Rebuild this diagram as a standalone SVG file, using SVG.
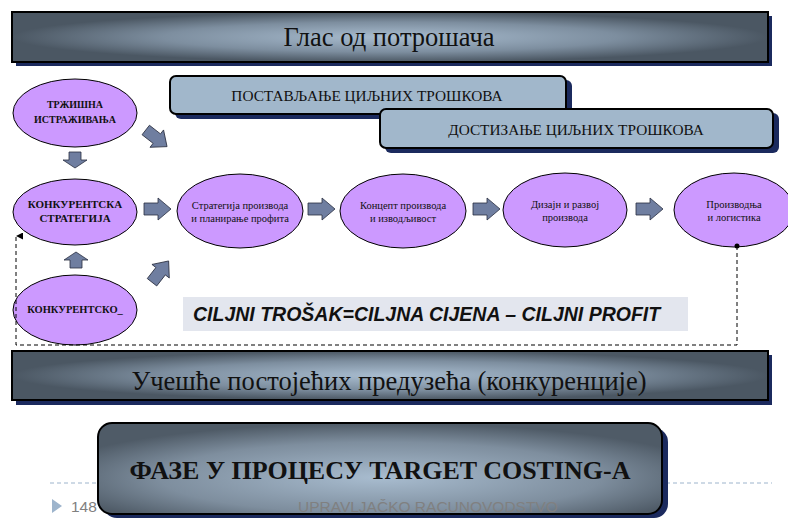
<svg xmlns="http://www.w3.org/2000/svg" width="788" height="518" viewBox="0 0 788 518">
<style>
  .ell { fill: #cc99ff; stroke: #000; stroke-width: 1; }
  .blk { fill: #6f7ea0; stroke: #2a2f40; stroke-width: 0.8; }
  .shadow { fill: #1b2a5e; }
  .band { stroke: #000; stroke-width: 2; }
  .bt { font-family: 'Liberation Serif', 'Times New Roman', serif; fill: #111; text-anchor: middle; }
  .bold { font-weight: bold; }
  .dash { fill: none; stroke: #000; stroke-width: 1; stroke-dasharray: 4 3; }
  .foot { font-family: 'Liberation Sans', Arial, sans-serif; font-size: 15.5px; fill: #808080; }
</style>
<defs>
  <radialGradient id="gBand" cx="0.5" cy="0.5" r="0.5">
    <stop offset="0" stop-color="#a9bdd0"/>
    <stop offset="0.6" stop-color="#7d8e9f"/>
    <stop offset="1" stop-color="#4b5763"/>
  </radialGradient>
  <radialGradient id="gTitle" cx="0.5" cy="0.6" r="0.6">
    <stop offset="0" stop-color="#a8bccf"/>
    <stop offset="0.65" stop-color="#7e8e9e"/>
    <stop offset="1" stop-color="#4f5b67"/>
  </radialGradient>
  <path id="arrR" d="M-13,-6 H1 V-11 L14,0 L1,11 V6 H-13 Z"/>
  <path id="arrS" d="M-8,-6 H0 V-12 L8,0 L0,12 V6 H-8 Z"/>
  <marker id="mUp" viewBox="0 0 10 10" refX="5" refY="0" markerWidth="7" markerHeight="7" orient="auto-start-reverse" markerUnits="userSpaceOnUse">
    <path d="M0,10 L5,0 L10,10 Z" fill="#000"/>
  </marker>
</defs>

<!-- top banner -->
<g id="banner-top">
  <rect class="shadow" x="16" y="16" width="756" height="50"/>
  <rect class="band" x="12" y="12" width="756" height="50" fill="url(#gBand)"/>
  <text class="bt" x="389" y="46" font-size="26.5">Глас од потрошача</text>
</g>

<!-- target cost boxes -->
<g id="box-postavljanje">
  <rect class="shadow" x="175" y="80" width="397" height="39" rx="6"/>
  <rect x="170" y="76" width="396" height="38" rx="6" fill="#a1b7cb" stroke="#000" stroke-width="2"/>
  <text class="bt" x="367" y="101" font-size="15.3">ПОСТАВЉАЊЕ ЦИЉНИХ ТРОШКОВА</text>
</g>
<g id="box-dostizanje">
  <rect class="shadow" x="385" y="113" width="394" height="40" rx="6"/>
  <rect x="380" y="109" width="393" height="39" rx="6" fill="#a1b7cb" stroke="#000" stroke-width="2"/>
  <text class="bt" x="576" y="135" font-size="15.3">ДОСТИЗАЊЕ ЦИЉНИХ ТРОШКОВА</text>
</g>

<!-- ellipses -->
<g id="n-trzisna">
  <ellipse class="ell" cx="75" cy="113" rx="62" ry="34"/>
  <text class="bt bold" x="75" y="108" font-size="10">ТРЖИШНА</text>
  <text class="bt bold" x="75" y="123" font-size="10">ИСТРАЖИВАЊА</text>
</g>
<g id="n-konkstrat">
  <ellipse class="ell" cx="75" cy="212" rx="62" ry="33"/>
  <text class="bt bold" x="75" y="208" font-size="11">КОНКУРЕНТСКА</text>
  <text class="bt bold" x="75" y="222" font-size="11">СТРАТЕГИЈА</text>
</g>
<g id="n-konkurentsko">
  <ellipse class="ell" cx="75" cy="310" rx="62" ry="35"/>
  <text class="bt bold" x="75" y="313" font-size="10.5">КОНКУРЕНТСКО_</text>
</g>
<g id="n-strategija">
  <ellipse class="ell" cx="240" cy="211" rx="63" ry="37"/>
  <text class="bt" x="240" y="209" font-size="10.5">Стратегија производа</text>
  <text class="bt" x="240" y="222" font-size="10.5">и планирање профита</text>
</g>
<g id="n-koncept">
  <ellipse class="ell" cx="403" cy="211" rx="63" ry="37"/>
  <text class="bt" x="403" y="209" font-size="10.5">Концепт производа</text>
  <text class="bt" x="403" y="222" font-size="10.5">и изводљивост</text>
</g>
<g id="n-dizajn">
  <ellipse class="ell" cx="565" cy="210" rx="62" ry="37"/>
  <text class="bt" x="565" y="208" font-size="10.5">Дизајн и развој</text>
  <text class="bt" x="565" y="221" font-size="10.5">производа</text>
</g>
<g id="n-proizvodnja">
  <ellipse class="ell" cx="734" cy="210" rx="60" ry="37"/>
  <text class="bt" x="734" y="208" font-size="10.5">Производња</text>
  <text class="bt" x="734" y="221" font-size="10.5">и логистика</text>
</g>

<!-- formula -->
<g id="formula">
  <rect x="183" y="297" width="505" height="34" fill="#e3e6ee"/>
  <text x="193" y="321" font-family="'Liberation Sans', Arial, sans-serif" font-size="19.5" font-weight="bold" font-style="italic" fill="#111">CILJNI TROŠAK=CILJNA CIJENA – CILJNI PROFIT</text>
</g>

<!-- connectors -->
<g id="connectors">
  <use href="#arrS" class="blk" transform="translate(75,160) rotate(90)"/>
  <use href="#arrS" class="blk" transform="translate(76,260) rotate(-90)"/>
  <use href="#arrR" class="blk" transform="translate(157,209)"/>
  <use href="#arrR" class="blk" transform="translate(321,209)"/>
  <use href="#arrR" class="blk" transform="translate(486,209)"/>
  <use href="#arrR" class="blk" transform="translate(649,209)"/>
  <use href="#arrR" class="blk" transform="translate(156,138) rotate(38)"/>
  <use href="#arrR" class="blk" transform="translate(160,272) rotate(-52)"/>
  <circle cx="737" cy="246" r="2.5" fill="#000"/>
  <polyline class="dash" points="737,246 737,345 16,345 16,236" marker-end="url(#mUp)"/>
</g>

<!-- bottom banner -->
<g id="banner-bottom">
  <rect class="shadow" x="16" y="355" width="756" height="50"/>
  <rect class="band" x="12" y="351" width="756" height="49" fill="url(#gBand)"/>
  <text class="bt" x="389" y="390" font-size="26.5">Учешће постојећих предузећа (конкуренције)</text>
</g>

<!-- footer -->
<g id="footer">
  <line x1="50" y1="483" x2="772" y2="483" stroke="#9db4cc" stroke-width="1" stroke-dasharray="4 3"/>
  <path d="M52,499 L62,506 L52,513 Z" fill="#9db4cc"/>
  <text class="foot" x="71" y="512">148</text>
</g>

<!-- title -->
<g id="title">
  <rect class="shadow" x="103" y="428" width="565" height="90" rx="14"/>
  <rect x="98" y="423" width="564" height="91" rx="14" fill="url(#gTitle)" stroke="#000" stroke-width="2"/>
  <text class="bt bold" x="380" y="479" font-size="26">ФАЗЕ У ПРОЦЕСУ TARGET COSTING-A</text>
  <text class="foot" x="298" y="512" fill="#4a535e">UPRAVLJAČKO RACUNOVODSTVO</text>
</g>
</svg>
